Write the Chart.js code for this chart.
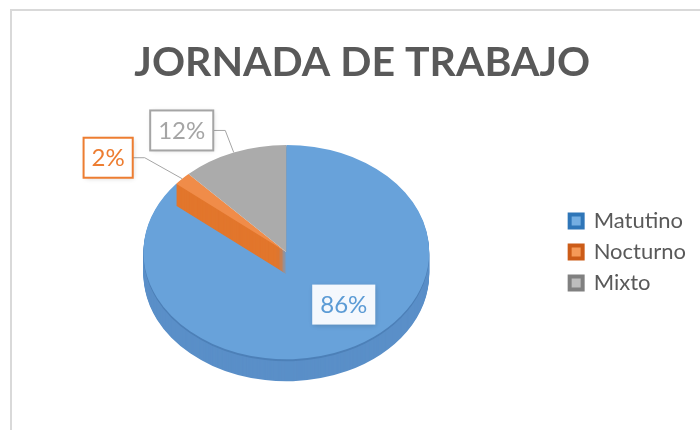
<!DOCTYPE html>
<html>
<head>
<meta charset="utf-8">
<script src="https://cdn.jsdelivr.net/npm/chart.js@4.4.1/dist/chart.umd.min.js"></script>
<style>
  html, body { margin: 0; padding: 0; background: #fff; overflow: hidden; }
  #frame { position: absolute; left: 10px; top: 9px; width: 720px; height: 440px;
           border-left: 2px solid #d9d9d9; border-top: 2px solid #d9d9d9; }
  #chart { position: absolute; left: 12px; top: 11px; }
</style>
</head>
<body>
<div id="frame"></div>
<canvas id="chart" width="700" height="430"></canvas>
<script>
// data
const categories = ['Matutino', 'Nocturno', 'Mixto'];
const values = [86, 2, 12];
const chartTitle = 'JORNADA DE TRABAJO';

// styles
const topColors = ['#68a2da', '#f08c49', '#ababab'];
const sideColors = ['#5a8fc8', '#e2762c', '#999999'];
const legendFill = ['#74aee2', '#f59a58', '#bdbdbd'];
const legendEdge = ['#2f76b8', '#cc5c18', '#808080'];
const labelText = ['#5b9bd5', '#ed7d31', '#a5a5a5'];
const labelBorder = [null, '#ed7d31', '#a5a5a5'];
const labelFill = ['#f4f8fd', '#ffffff', '#ffffff'];
// where each label box sits (relative to slice)
const labelPlace = [
    {dx: 27, dy: 4, inside: true},
    {dx: -74, dy: -21},
    {dx: -52, dy: -22}
];

const TILT = 0.75;   // vertical squash of the pie top
const DEPTH = 22;    // thickness of the pie

function squashY(cy, py) {
    return cy + (py - cy) * TILT;
}

// draw an arc element with another colour, squashed and shifted down by dy
function paintArc(ctx, arc, color, dy) {
    const tmp = Object.create(arc);
    tmp.options = Object.assign({}, arc.options, {backgroundColor: color, borderWidth: 0});
    ctx.save();
    ctx.translate(0, arc.y + dy);
    ctx.scale(1, TILT);
    ctx.translate(0, -arc.y);
    tmp.draw(ctx);
    ctx.restore();
}

function drawLabels(chart) {
    const ctx = chart.ctx;
    const arcs = chart.getDatasetMeta(0).data;
    const total = values.reduce((a, b) => a + b, 0);
    ctx.save();
    ctx.font = '24px Lato';
    ctx.textAlign = 'center';
    ctx.textBaseline = 'middle';
    arcs.forEach((arc, i) => {
        const txt = Math.round(values[i] / total * 100) + '%';
        const place = labelPlace[i];
        let bx, by, ex, ey;
        if (place.inside) {
            const p = arc.tooltipPosition();
            bx = p.x + place.dx;
            by = squashY(arc.y, p.y) + place.dy;
        } else {
            const a = (arc.startAngle + arc.endAngle) / 2;
            ex = arc.x + Math.cos(a) * arc.outerRadius;
            ey = squashY(arc.y, arc.y + Math.sin(a) * arc.outerRadius);
            bx = ex + place.dx;
            by = ey + place.dy;
        }
        const w = ctx.measureText(txt).width + 16;
        const h = 40;
        if (!place.inside) {
            ctx.beginPath();
            ctx.strokeStyle = '#a5a5a5';
            ctx.lineWidth = 1;
            ctx.moveTo(ex, ey);
            ctx.lineTo(bx + w / 2 + 12, by);
            ctx.lineTo(bx + w / 2, by);
            ctx.stroke();
        }
        ctx.save();
        ctx.shadowColor = 'rgba(0,0,0,0.18)';
        ctx.shadowBlur = 5;
        ctx.shadowOffsetX = 1;
        ctx.shadowOffsetY = 1;
        ctx.fillStyle = labelFill[i];
        ctx.fillRect(bx - w / 2, by - h / 2, w, h);
        ctx.restore();
        if (labelBorder[i]) {
            ctx.strokeStyle = labelBorder[i];
            ctx.lineWidth = 2;
            ctx.strokeRect(bx - w / 2, by - h / 2, w, h);
        }
        ctx.fillStyle = labelText[i];
        ctx.fillText(txt, bx, by + 1);
    });
    ctx.restore();
}

const pie3d = {
    id: 'pie3d',
    beforeDatasetsDraw(chart) {
        const ctx = chart.ctx;
        const arcs = chart.getDatasetMeta(0).data;
        // side of the big slice
        for (let d = DEPTH; d >= 1; d--) {
            paintArc(ctx, arcs[0], d > 2 ? sideColors[0] : '#4d80b8', d);
        }
        paintArc(ctx, arcs[0], topColors[0], 0);
        // wall of the small slice
        for (let d = DEPTH; d >= 1; d--) {
            paintArc(ctx, arcs[1], sideColors[1], d);
        }
        paintArc(ctx, arcs[1], topColors[1], 0);
        paintArc(ctx, arcs[2], topColors[2], 0);
        return false;
    },
    afterDraw(chart) {
        drawLabels(chart);
    }
};

const ctx = document.getElementById('chart');

new Chart(ctx, {
    type: 'pie',
    data: {
        labels: categories,
        datasets: [{
            data: values,
            backgroundColor: topColors,
            borderWidth: 0,
            hoverOffset: 0
        }]
    },
    options: {
        responsive: false,
        animation: false,
        devicePixelRatio: 1,
        layout: {padding: {left: -4, right: 16, top: 0, bottom: 46}},
        plugins: {
            title: {
                display: true,
                // en space in front keeps the title centred on the frame, not on the padded area
                text: '\u2002' + chartTitle,
                color: '#595959',
                font: {family: 'Lato', size: 41, weight: 'bold'},
                padding: {top: 27, bottom: 22}
            },
            legend: {
                position: 'right',
                fullSize: false,
                labels: {
                    boxWidth: 13,
                    boxHeight: 13,
                    padding: 9,
                    font: {family: 'Lato', size: 22},
                    color: '#595959',
                    generateLabels: function (chart) {
                        return categories.map((c, i) => ({
                            text: c,
                            fillStyle: legendFill[i],
                            strokeStyle: legendEdge[i],
                            lineWidth: 4,
                            fontColor: '#595959',
                            hidden: false,
                            index: i
                        }));
                    }
                }
            },
            tooltip: {enabled: false}
        }
    },
    plugins: [pie3d]
});
</script>
</body>
</html>
